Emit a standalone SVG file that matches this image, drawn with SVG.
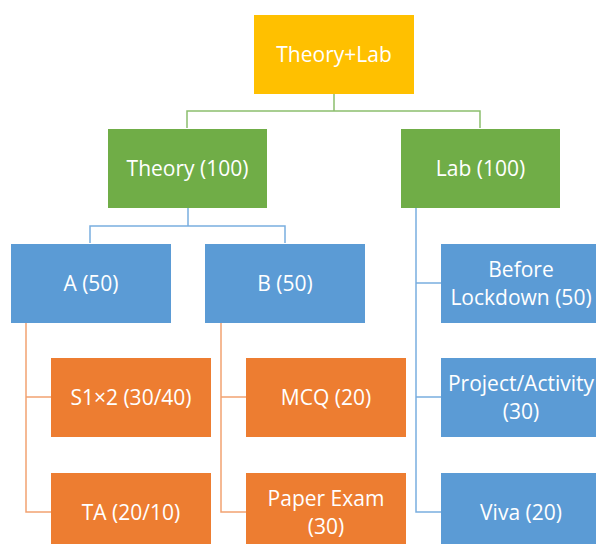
<svg xmlns="http://www.w3.org/2000/svg" width="596" height="544" viewBox="0 0 596 544">
<style>
.t{font-family:"Open Sans","Liberation Sans",sans-serif;font-size:21px;fill:#ffffff;text-anchor:middle}
.gold{fill:#FFC000}
.green{fill:#70AD47}
.blue{fill:#5B9BD5}
.orange{fill:#ED7D31}
.cg{stroke:#8CBF6E;stroke-width:1.5;fill:none}
.cb{stroke:#7AAEE0;stroke-width:1.5;fill:none}
.co{stroke:#F2A272;stroke-width:1.5;fill:none}
</style>
<rect width="596" height="544" fill="#ffffff"/>
<g id="connectors">
<path class="cg" d="M334 94V111M187 128V111H480V128"/>
<path class="cb" d="M188 208V226M90 243V226H285V243"/>
<path class="co" d="M26 323V512H51M26 397H51"/>
<path class="co" d="M221 323V512H246M221 397H246"/>
<path class="cb" d="M416 208V512H441M416 283H441M416 397H441"/>
</g>
<g id="theory-lab"><rect class="gold" x="254" y="15" width="160" height="79"/><text class="t" x="334" y="62">Theory+Lab</text></g>
<g id="theory"><rect class="green" x="108" y="129" width="159" height="79"/><text class="t" x="187.5" y="176">Theory (100)</text></g>
<g id="lab"><rect class="green" x="401" y="129" width="159" height="79"/><text class="t" x="480.5" y="176">Lab (100)</text></g>
<g id="a"><rect class="blue" x="11" y="244" width="160" height="79"/><text class="t" x="91" y="291">A (50)</text></g>
<g id="b"><rect class="blue" x="205" y="244" width="160" height="79"/><text class="t" x="285" y="291">B (50)</text></g>
<g id="before-lockdown"><rect class="blue" x="441" y="244" width="160" height="79"/><text class="t" x="521" y="277">Before</text><text class="t" x="521" y="305">Lockdown (50)</text></g>
<g id="s1x2"><rect class="orange" x="51" y="358" width="160" height="79"/><text class="t" x="131" y="405">S1×2 (30/40)</text></g>
<g id="mcq"><rect class="orange" x="246" y="358" width="160" height="79"/><text class="t" x="326" y="405">MCQ (20)</text></g>
<g id="project"><rect class="blue" x="441" y="358" width="160" height="79"/><text class="t" x="521" y="391">Project/Activity</text><text class="t" x="521" y="419">(30)</text></g>
<g id="ta"><rect class="orange" x="51" y="473" width="160" height="79"/><text class="t" x="131" y="520">TA (20/10)</text></g>
<g id="paper-exam"><rect class="orange" x="246" y="473" width="160" height="79"/><text class="t" x="326" y="506">Paper Exam</text><text class="t" x="326" y="534">(30)</text></g>
<g id="viva"><rect class="blue" x="441" y="473" width="160" height="79"/><text class="t" x="521" y="520">Viva (20)</text></g>
</svg>
